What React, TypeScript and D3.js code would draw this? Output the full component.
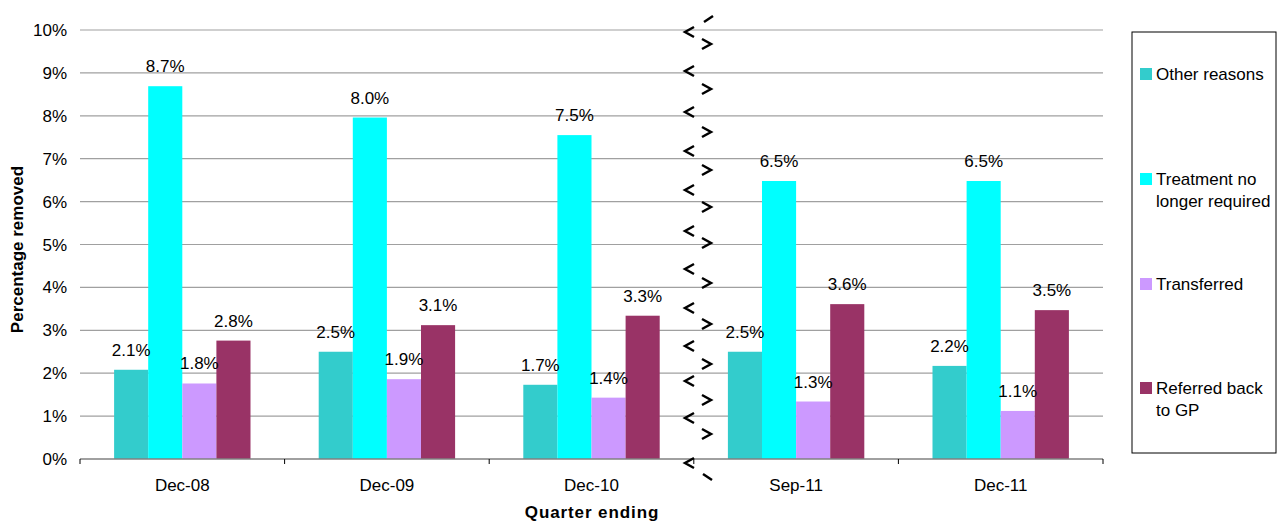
import React from "react";
import * as d3 from "d3";

const categories = ["Dec-08", "Dec-09", "Dec-10", "Sep-11", "Dec-11"];
const seriesNames = ["Other reasons", "Treatment no longer required", "Transferred", "Referred back to GP"];
const legendLines = [["Other reasons"], ["Treatment no", "longer required"], ["Transferred"], ["Referred back", "to GP"]];
const seriesColors = ["#33CCCC", "#00FFFF", "#CC99FF", "#993366"];
const otherReasons = [2.08, 2.5, 1.73, 2.5, 2.17];
const treatmentNoLonger = [8.69, 7.96, 7.55, 6.48, 6.48];
const transferred = [1.76, 1.86, 1.43, 1.34, 1.12];
const referredBack = [2.76, 3.12, 3.34, 3.61, 3.47];
const yTicks = [0, 1, 2, 3, 4, 5, 6, 7, 8, 9, 10];

const seriesValues = [otherReasons, treatmentNoLonger, transferred, referredBack];

const W = 1282;
const H = 522;
const M = { left: 80, right: 1103, top: 30, bottom: 459 };
const FONT = "Liberation Sans, Arial, sans-serif";

// break-mark chevron centres (decoration)
const breakLeft = [32, 71, 112, 151, 190, 231, 269, 308, 346, 381, 418, 463];
const breakRight = [44, 89, 132, 170, 207, 243, 283, 324, 364, 400, 434];

export default function App() {
  const x = d3.scaleBand<string>().domain(categories).range([M.left, M.right]).paddingInner(0).paddingOuter(0);
  const bw = x.bandwidth();
  const inner = d3
    .scaleBand<number>()
    .domain(d3.range(seriesNames.length))
    .range([bw / 6, (bw * 5) / 6]);
  const y = d3.scaleLinear().domain([0, 10]).range([M.bottom, M.top]);

  const breakX = 698;
  const legendTops = [68, 173, 278, 382];

  return (
    <svg width={W} height={H} style={{ position: "absolute", left: 0, top: 0 }} fontFamily={FONT}>
      <rect x={0} y={0} width={W} height={H} fill="#fff" />
      {/* gridlines */}
      {yTicks.map((t) =>
        t === 0 ? null : (
          <line key={t} x1={M.left} x2={M.right} y1={y(t)} y2={y(t)} stroke="#a0a0a0" strokeWidth={1.2} />
        )
      )}
      {/* y tick labels */}
      {yTicks.map((t) => (
        <text key={t} x={67} y={y(t) + 6} textAnchor="end" fontSize={17} fill="#000">
          {t}%
        </text>
      ))}
      {/* bars */}
      {seriesValues.map((vals, si) =>
        vals.map((v, ci) => (
          <rect
            key={`${si}-${ci}`}
            x={(x(categories[ci]) as number) + (inner(si) as number)}
            y={y(v)}
            width={inner.bandwidth()}
            height={y(0) - y(v)}
            fill={seriesColors[si]}
          />
        ))
      )}
      {/* value labels */}
      {seriesValues.map((vals, si) =>
        vals.map((v, ci) => (
          <text
            key={`l${si}-${ci}`}
            x={(x(categories[ci]) as number) + (inner(si) as number) + inner.bandwidth() / 2}
            y={y(v) - 14}
            textAnchor="middle"
            fontSize={17}
            fill="#000"
          >
            {v.toFixed(1)}%
          </text>
        ))
      )}
      {/* x axis */}
      <line x1={M.left} x2={M.right} y1={M.bottom} y2={M.bottom} stroke="#808080" strokeWidth={1.5} />
      {[...categories.map((c) => x(c) as number), M.right].map((px, i) => (
        <line key={i} x1={px} x2={px} y1={M.bottom} y2={M.bottom + 5} stroke="#000" strokeWidth={1} />
      ))}
      {categories.map((c) => (
        <text key={c} x={(x(c) as number) + bw / 2} y={491} textAnchor="middle" fontSize={17} fill="#000">
          {c}
        </text>
      ))}
      {/* axis titles */}
      <text x={592} y={518} textAnchor="middle" fontSize={17} fontWeight="bold" letterSpacing={0.9} fill="#000">
        Quarter ending
      </text>
      <text
        transform={`translate(23,${(M.top + M.bottom) / 2 + 5}) rotate(-90)`}
        textAnchor="middle"
        fontSize={17}
        fontWeight="bold"
        fill="#000"
      >
        Percentage removed
      </text>
      {/* break marks */}
      <line x1={704} y1={22} x2={713} y2={16} stroke="#000" strokeWidth={2.5} />
      {breakLeft.map((cy, i) => (
        <polyline
          key={`bl${i}`}
          points={`${breakX - 4},${cy - 5} ${breakX - 13},${cy} ${breakX - 4},${cy + 5}`}
          fill="none"
          stroke="#000"
          strokeWidth={2.5}
        />
      ))}
      {breakRight.map((cy, i) => (
        <polyline
          key={`br${i}`}
          points={`${breakX + 4},${cy - 5} ${breakX + 13},${cy} ${breakX + 4},${cy + 5}`}
          fill="none"
          stroke="#000"
          strokeWidth={2.5}
        />
      ))}
      <line x1={703} y1={474} x2={712} y2={480} stroke="#000" strokeWidth={2.5} />
      {/* legend */}
      <rect x={1132} y={32} width={144} height={421} fill="#fff" stroke="#000" strokeWidth={1} />
      {legendLines.map((lines, i) => (
        <g key={i}>
          <rect x={1140} y={legendTops[i]} width={12} height={12} fill={seriesColors[i]} />
          {lines.map((ln, j) => (
            <text key={j} x={1156} y={legendTops[i] + 12 + j * 22} fontSize={17} fill="#000">
              {ln}
            </text>
          ))}
        </g>
      ))}
    </svg>
  );
}
